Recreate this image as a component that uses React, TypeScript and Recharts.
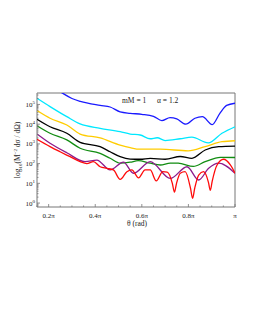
import React from "react";
import { LineChart, Line, XAxis, YAxis, ReferenceArea } from "recharts";

// theta in units of pi, value = log10(M^-2 dσ/dΩ)
const blue: [number, number][] = [
  [0.15, 6.45], [0.258, 5.58], [0.3, 5.3], [0.336, 5.15], [0.421, 4.95], [0.464, 4.87],
  [0.507, 4.62], [0.55, 4.55], [0.6, 4.5], [0.65, 4.4], [0.686, 4.18], [0.721, 4.33],
  [0.75, 4.27], [0.789, 4.0], [0.828, 4.3], [0.86, 4.38], [0.902, 3.98], [0.935, 4.55],
  [0.964, 4.95], [1.0, 5.06],
];
const cyan: [number, number][] = [
  [0.15, 5.31], [0.206, 4.89], [0.278, 4.38], [0.335, 4.01], [0.421, 3.79], [0.507, 3.62],
  [0.55, 3.5], [0.593, 3.45], [0.636, 3.26], [0.666, 3.31], [0.7, 3.17], [0.765, 3.26],
  [0.815, 3.34], [0.885, 3.05], [0.944, 3.54], [1.0, 3.87],
];
const gold: [number, number][] = [
  [0.15, 4.69], [0.206, 4.3], [0.278, 3.96], [0.335, 3.5], [0.421, 3.3], [0.507, 2.94],
  [0.55, 2.81], [0.593, 2.73], [0.679, 2.73], [0.799, 2.65], [0.872, 2.86], [0.944, 3.11],
  [1.0, 3.16],
];
const black: [number, number][] = [
  [0.15, 4.25], [0.206, 3.87], [0.278, 3.54], [0.335, 3.08], [0.421, 2.86], [0.464, 2.6],
  [0.507, 2.35], [0.55, 2.23], [0.593, 2.22], [0.636, 2.27], [0.7, 2.22], [0.765, 2.36],
  [0.815, 2.27], [0.872, 2.69], [0.93, 2.86], [1.0, 2.89],
];
const green: [number, number][] = [
  [0.15, 3.92], [0.206, 3.54], [0.278, 3.2], [0.335, 2.78], [0.421, 2.52], [0.464, 2.27],
  [0.507, 2.02], [0.55, 2.07], [0.584, 2.15], [0.636, 2.02], [0.679, 1.93], [0.722, 2.02],
  [0.756, 2.02], [0.821, 1.86], [0.872, 2.1], [0.937, 2.32], [1.0, 2.31],
];
const purple: [number, number][] = [
  [0.15, 3.5], [0.206, 3.03], [0.278, 2.55], [0.356, 2.1], [0.407, 2.18], [0.464, 1.68],
  [0.521, 2.08], [0.564, 1.51], [0.636, 2.1], [0.722, 1.25], [0.794, 1.84], [0.844, 1.17],
  [0.887, 1.76], [0.93, 2.02], [1.0, 1.51],
];
const red: [number, number][] = [
  [0.15, 3.23], [0.206, 2.86], [0.249, 2.6], [0.292, 2.35], [0.335, 2.1], [0.364, 2.0],
  [0.392, 2.1], [0.421, 1.84], [0.45, 1.76], [0.478, 1.68], [0.507, 1.2], [0.536, 1.59],
  [0.557, 1.68], [0.586, 1.28], [0.614, 1.68], [0.636, 1.68], [0.662, 1.12], [0.69, 1.59],
  [0.709, 1.57], [0.731, 1.0], [0.74, 0.55], [0.749, 1.0], [0.765, 1.51], [0.786, 1.59],
  [0.809, 0.75], [0.818, 0.24], [0.827, 0.75], [0.844, 1.42], [0.865, 1.59], [0.886, 1.05],
  [0.894, 0.64], [0.902, 1.1], [0.923, 1.93], [0.951, 2.22], [0.98, 1.93], [1.0, 1.51],
];

const seriesList = [
  { name: "blue", pts: blue, color: "#1a1aff" },
  { name: "cyan", pts: cyan, color: "#00e8ff" },
  { name: "gold", pts: gold, color: "#ffcc00" },
  { name: "black", pts: black, color: "#000000" },
  { name: "green", pts: green, color: "#118c11" },
  { name: "purple", pts: purple, color: "#8c1a8c" },
  { name: "red", pts: red, color: "#ff0a0a" },
];

const xMajor = [0.2, 0.4, 0.6, 0.8, 1.0];
const xLabels = ["0.2π", "0.4π", "0.6π", "0.8π", "π"];
const xMinor = [0.15, 0.25, 0.3, 0.35, 0.45, 0.5, 0.55, 0.65, 0.7, 0.75, 0.85, 0.9, 0.95];
const yMajor = [0, 1, 2, 3, 4, 5];

const X_DOMAIN: [number, number] = [0.15, 1];
const Y_DOMAIN: [number, number] = [-0.2, 5.58];

const yMinor: number[] = [];
for (let n = -1; n <= 5; n++) {
  for (let k = 2; k <= 9; k++) {
    const v = n + Math.log10(k);
    if (v > Y_DOMAIN[0] && v < Y_DOMAIN[1]) yMinor.push(v);
  }
}

const FONT = "'Liberation Serif', 'DejaVu Serif', serif";
const AXIS_COLOR = "#777";

const YTick = (props: any) => {
  const { x, y, payload } = props;
  const v = payload.value;
  const major = Math.abs(v - Math.round(v)) < 1e-6;
  return (
    <g>
      <line x1={x} x2={x + (major ? 3 : 1.5)} y1={y} y2={y} stroke={AXIS_COLOR} strokeWidth={0.8} />
      {major && (
        <text x={x - 2} y={y + 2.5} textAnchor="end" fontFamily={FONT} fontSize={7} fill="#222">
          <tspan>10</tspan>
          <tspan dy={-3} fontSize={5}>{Math.round(v)}</tspan>
        </text>
      )}
    </g>
  );
};

const XTick = (props: any) => {
  const { x, y, payload } = props;
  const v = payload.value;
  const idx = xMajor.findIndex((m) => Math.abs(m - v) < 1e-6);
  const major = idx >= 0;
  return (
    <g>
      <line x1={x} x2={x} y1={y} y2={y - (major ? 3 : 1.5)} stroke={AXIS_COLOR} strokeWidth={0.8} />
      {major && (
        <text x={x} y={y + 11} textAnchor="middle" fontFamily={FONT} fontSize={7} fill="#222">
          {xLabels[idx]}
        </text>
      )}
    </g>
  );
};

const YLabel = () => (
  <text
    transform="translate(12,142) rotate(-90)"
    textAnchor="middle"
    fontFamily={FONT}
    fontSize={7.5}
    fill="#222"
  >
    <tspan>log</tspan>
    <tspan dy={2} fontSize={5}>10</tspan>
    <tspan dy={-2}>(M</tspan>
    <tspan dy={-3} fontSize={5}>−2</tspan>
    <tspan dy={3}> dσ / dΩ)</tspan>
  </text>
);

export default function App() {
  return (
    <LineChart
      width={240}
      height={240}
      margin={{ top: 85, right: 13, left: 0, bottom: 21 }}
    >
      <XAxis
        dataKey="t"
        type="number"
        domain={X_DOMAIN}
        allowDataOverflow
        ticks={[...xMajor, ...xMinor].sort((a, b) => a - b)}
        interval={0}
        tick={<XTick />}
        tickLine={false}
        axisLine={false}
        tickSize={0}
        tickMargin={0}
        height={20}
        label={{
          content: () => (
            <text x={129} y={218} textAnchor="middle" fontFamily={FONT} fontSize={7.5} fill="#222">
              θ (rad)
            </text>
          ),
        }}
      />
      <YAxis
        type="number"
        domain={Y_DOMAIN}
        allowDataOverflow
        ticks={[...yMajor, ...yMinor].sort((a, b) => a - b)}
        interval={0}
        tick={<YTick />}
        tickLine={false}
        axisLine={false}
        tickSize={0}
        tickMargin={0}
        width={29}
        label={{ content: () => <YLabel /> }}
      />
      <ReferenceArea
        x1={X_DOMAIN[0]}
        x2={X_DOMAIN[1]}
        y1={Y_DOMAIN[0]}
        y2={Y_DOMAIN[1]}
        fill="none"
        stroke={AXIS_COLOR}
        strokeWidth={1}
        label={{
          content: () => (
            <text x={114} y={94.5} fontFamily={FONT} fontSize={7.5} fill="#222">
              <tspan>mM = 1</tspan>
              <tspan x={149}>α = 1.2</tspan>
            </text>
          ),
        }}
      />
      {seriesList.map((s) => (
        <Line
          key={s.name}
          data={s.pts.map(([t, v]) => ({ t, v }))}
          dataKey="v"
          type="monotone"
          stroke={s.color}
          strokeWidth={1.3}
          dot={false}
          isAnimationActive={false}
        />
      ))}
    </LineChart>
  );
}
